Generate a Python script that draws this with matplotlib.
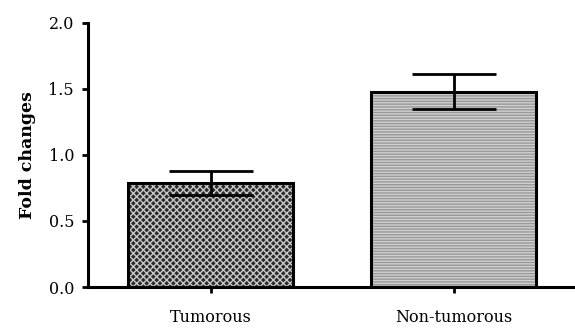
import matplotlib.pyplot as plt
import numpy as np

groups = ["Tumorous", "Non-tumorous"]
fold = [0.79, 1.48]
err = [0.09, 0.13]
fills = ["#2a2a2a", "#d0d0d0"]
hatches = ["xxxxx", "------"]
hatch_cols = ["#c8c8c8", "#999999"]

plt.rcParams['font.family'] = ['DejaVu Serif']
plt.rcParams['hatch.linewidth'] = 1.0

fig = plt.figure(figsize=(5.75, 3.28), dpi=100)
ax = fig.add_axes([0.153, 0.125, 0.847, 0.805])

x = np.arange(len(groups))
w = 0.68
for i in range(len(groups)):
    ax.bar(x[i], fold[i], w, color=fills[i], hatch=hatches[i],
           edgecolor=hatch_cols[i], linewidth=0, zorder=2)
ax.bar(x, fold, w, fill=False, edgecolor="black", linewidth=2.2, zorder=3)
ax.errorbar(x, fold, yerr=err, fmt="none", ecolor="black", elinewidth=2,
            capsize=30, capthick=2, zorder=4)

ax.set_xlim(-0.505, 1.5)
ax.set_ylim(0, 2.0)
ax.set_yticks([0, 0.5, 1.0, 1.5, 2.0])
ax.set_yticklabels(["0.0", "0.5", "1.0", "1.5", "2.0"])
ax.set_xticks(x)
ax.set_xticklabels(groups)
ax.set_ylabel("Fold changes", fontweight="bold", fontsize=12.5, labelpad=9)

for s in ["top", "right"]:
    ax.spines[s].set_visible(False)
for s in ["left", "bottom"]:
    ax.spines[s].set_linewidth(2.2)
ax.tick_params(width=2, length=4, labelsize=11.5, pad=6)
ax.tick_params(axis="x", pad=12)

fig.savefig("out.png", dpi=100)
